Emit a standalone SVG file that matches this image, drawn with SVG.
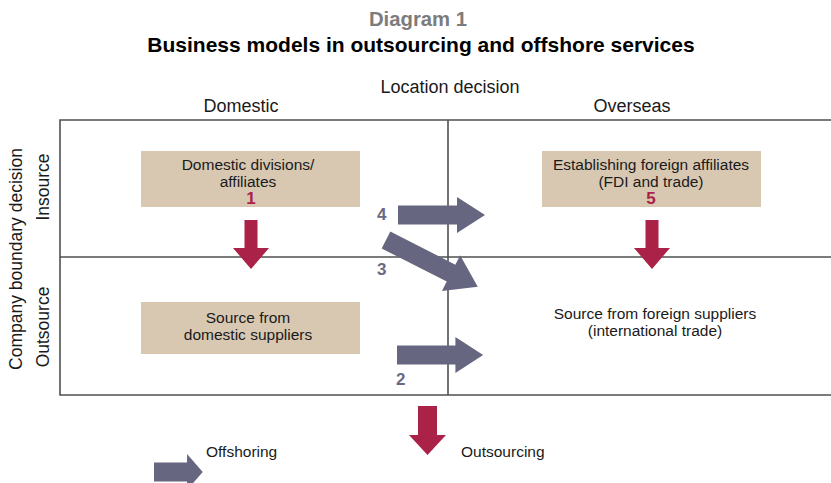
<svg xmlns="http://www.w3.org/2000/svg" width="831" height="483" viewBox="0 0 831 483">
<style>
text{font-family:"Liberation Sans",Arial,sans-serif;fill:#1a1a1a}
.t{font-size:15.5px;text-anchor:middle}
.h{font-size:18px;text-anchor:middle}
.r{font-size:17.5px;text-anchor:middle}
.n{font-size:17px;font-weight:bold;fill:#aa2248;text-anchor:middle}
.g{font-size:17px;font-weight:bold;fill:#6a6a84}
.box{fill:#d8c8b2}
.line{stroke:#505050;stroke-width:1.6;fill:none}
.red{fill:#aa2248}
.pur{fill:#666680}
</style>
<defs>
<path id="down" d="M-6.5,0 H6.5 V28 H18 L0,49 L-18,28 H-6.5 Z"/>
<path id="right" d="M0,-9.5 H59 V-18 L87,0 L59,18 V9.5 H0 Z"/>
<path id="diag" d="M0,-9.5 H73 V-20 L103,0 L73,20 V9.5 H0 Z"/>
</defs>
<text x="418" y="26" style="font-size:20.3px;font-weight:bold;fill:#7c7c7c;text-anchor:middle">Diagram 1</text>
<text x="421" y="52" style="font-size:21px;font-weight:bold;fill:#000;text-anchor:middle">Business models in outsourcing and offshore services</text>
<text class="h" x="450" y="93">Location decision</text>
<text class="h" x="241" y="112">Domestic</text>
<text class="h" x="632" y="112">Overseas</text>
<text class="r" transform="translate(22,259) rotate(-90)">Company boundary decision</text>
<text class="r" transform="translate(49,187) rotate(-90)">Insource</text>
<text class="r" transform="translate(49,327) rotate(-90)">Outsource</text>
<g id="grid">
<path class="line" d="M831,120 H60 V395 H831 M60,257 H831 M448,120 V395"/>
</g>
<g id="node1">
<rect class="box" x="141" y="151" width="219" height="56"/>
<text class="t" x="248" y="170">Domestic divisions/</text>
<text class="t" x="248" y="187">affiliates</text>
<text class="n" x="251" y="204">1</text>
</g>
<g id="node5">
<rect class="box" x="542" y="151" width="219" height="56"/>
<text class="t" x="651" y="170">Establishing foreign affiliates</text>
<text class="t" x="651" y="187">(FDI and trade)</text>
<text class="n" x="651" y="204">5</text>
</g>
<g id="node-domestic-suppliers">
<rect class="box" x="141" y="302" width="219" height="52"/>
<text class="t" x="248" y="323">Source from</text>
<text class="t" x="248" y="340">domestic suppliers</text>
</g>
<g id="node-foreign-suppliers">
<text class="t" x="655" y="319">Source from foreign suppliers</text>
<text class="t" x="655" y="336">(international trade)</text>
</g>
<g id="connectors">
<use href="#down" class="red" x="251" y="220"/>
<use href="#down" class="red" x="652" y="220"/>
<use href="#right" class="pur" transform="translate(398,215)"/>
<use href="#diag" class="pur" transform="translate(386,240) rotate(27)"/>
<use href="#right" class="pur" transform="translate(397,355) scale(0.99,1)"/>
<text class="g" x="377" y="220">4</text>
<text class="g" x="377" y="275">3</text>
<text class="g" x="396" y="385">2</text>
</g>
<g id="legend">
<use href="#right" class="pur" transform="translate(154,472) scale(0.56,1)"/>
<text x="206" y="457" style="font-size:15.5px">Offshoring</text>
<path class="red" d="M418,406 H437 V435 H446 L427.5,455 L409,435 H418 Z"/>
<text x="461" y="457" style="font-size:15.5px">Outsourcing</text>
</g>
</svg>
